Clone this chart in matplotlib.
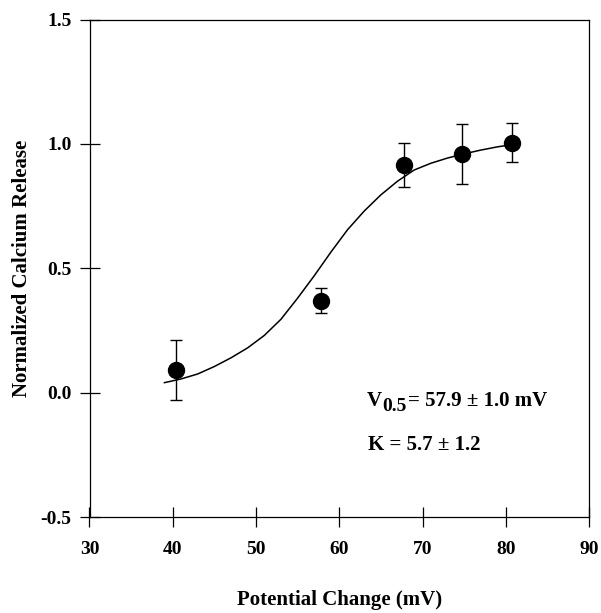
import matplotlib
matplotlib.use('Agg')
import matplotlib.pyplot as plt

plt.rcParams['font.family'] = ['Liberation Serif', 'DejaVu Serif']
plt.rcParams['font.weight'] = 'bold'

# measured points
potential = [40.4, 57.8, 67.8, 74.8, 80.8]
release = [0.09, 0.37, 0.915, 0.96, 1.005]
release_err = [0.12, 0.05, 0.09, 0.12, 0.077]

# fitted curve
fit_x = [39, 41, 43, 45, 47, 49, 51, 53, 55, 57, 59, 61, 63, 65, 67, 69, 71, 73, 75, 77, 79, 81]
fit_y = [0.04, 0.055, 0.075, 0.105, 0.14, 0.18, 0.23, 0.295, 0.38, 0.47, 0.565, 0.655, 0.73, 0.795, 0.85, 0.895, 0.922, 0.943, 0.96, 0.975, 0.988, 0.998]

x_ticks = [30, 40, 50, 60, 70, 80, 90]
y_ticks = [-0.5, 0.0, 0.5, 1.0, 1.5]

fig = plt.figure(figsize=(6.01, 6.13), dpi=100)
ax = fig.add_axes([89.5 / 601, 1 - 517 / 613, (589 - 89.5) / 601, (517 - 19.5) / 613])

ax.plot(fit_x, fit_y, color='black', lw=1.1)
ax.errorbar(potential, release, yerr=release_err, fmt='o', color='black',
            ms=11.5, elinewidth=1, capsize=4, capthick=1)

ax.set_xlim(30, 90)
ax.set_ylim(-0.5, 1.5)
ax.set_xticks(x_ticks)
ax.set_yticks(y_ticks)
ax.set_yticklabels(['%.1f' % v for v in y_ticks])
ax.tick_params(direction='inout', length=14, width=0.9, labelsize=14)
ax.tick_params(axis='x', pad=10)
ax.tick_params(axis='y', pad=6)
for s in ax.spines.values():
    s.set_linewidth(0.9)

ax.set_xlabel('Potential Change (mV)', fontsize=15, fontweight='bold', labelpad=23)
ax.set_ylabel('Normalized Calcium Release', fontsize=15, fontweight='bold', labelpad=6)

t1 = ax.text(63.3, -0.072, 'V', fontsize=15, fontweight='bold', va='bottom')
t2 = ax.annotate('0.5', xy=(1, 0), xycoords=t1, xytext=(0, -3), textcoords='offset points',
                 fontsize=14, fontweight='bold', va='bottom')
ax.annotate('= 57.9 ± 1.0 mV', xy=(1, 0), xycoords=t2, xytext=(1.5, 3), textcoords='offset points',
            fontsize=15, fontweight='bold', va='bottom')
ax.text(63.5, -0.25, 'K = 5.7 ± 1.2', fontsize=15, fontweight='bold', va='bottom')

fig.savefig('out.png', dpi=100)
